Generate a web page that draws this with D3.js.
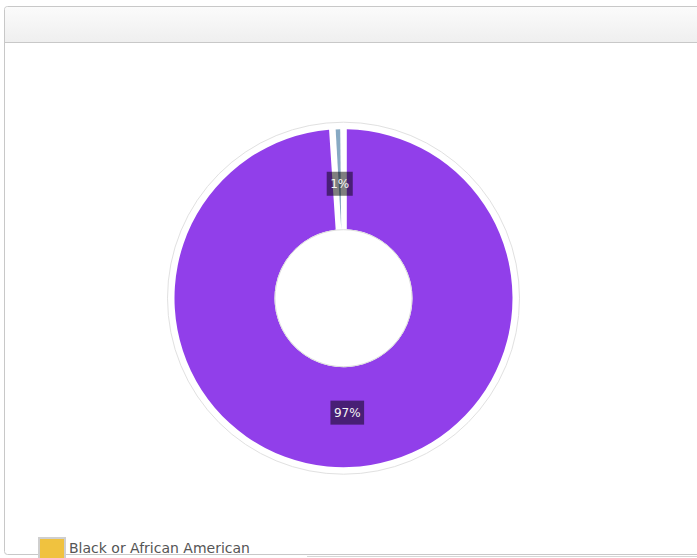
<!DOCTYPE html>
<html>
<head>
<meta charset="utf-8">
<script src="https://cdn.jsdelivr.net/npm/d3@7"></script>
<style>
  html, body { margin: 0; padding: 0; background: #fff; overflow: hidden; }
  svg { display: block; font-family: "DejaVu Sans", Verdana, sans-serif; }
</style>
</head>
<body>
<svg id="chart" width="697" height="558"></svg>
<script>
// ---- data ----
const categories = ["Black or African American", "White", "Asian"];
const values = [0, 98.95, 1.05];              // shares
const pctLabels = ["", "97%", "1%"];          // labels as printed on the slices
const colors = ["#f0c23f", "#913fea", "#87a9c3"];
const legendShown = ["Black or African American"];

const W = 697, H = 558;
const svg = d3.select("#chart");

// ---- panel frame ----
const defs = svg.append("defs");
const grad = defs.append("linearGradient").attr("id", "hdr").attr("x1", 0).attr("y1", 0).attr("x2", 0).attr("y2", 1);
grad.append("stop").attr("offset", "0%").attr("stop-color", "#fbfbfb");
grad.append("stop").attr("offset", "100%").attr("stop-color", "#efefef");

svg.append("line").attr("x1", 307).attr("x2", W).attr("y1", 556.5).attr("y2", 556.5)
  .attr("stroke", "#d6d6d6");
svg.append("rect").attr("x", 4.5).attr("y", 6.5).attr("width", 710).attr("height", 548)
  .attr("rx", 3).attr("fill", "#fff").attr("stroke", "#c8c8c8");
svg.append("path").attr("d", "M5,42 L5,10 Q5,7 8,7 L" + W + ",7 L" + W + ",42 Z").attr("fill", "url(#hdr)");
svg.append("line").attr("x1", 5).attr("x2", W).attr("y1", 42.5).attr("y2", 42.5)
  .attr("stroke", "#c8c8c8");

// ---- donut ----
const cx = 343.5, cy = 298.2;
const rOuter = 169, rInner = 69;
const g = svg.append("g").attr("transform", `translate(${cx},${cy})`);

g.append("circle").attr("r", 176).attr("fill", "none").attr("stroke", "#e1e1e1").attr("stroke-width", 1);

const data = categories.map((c, i) => ({ name: c, value: values[i], color: colors[i], label: pctLabels[i] }));
const pie = d3.pie().sort(null).value(d => d.value);
const arcs = pie(data);

const arc = d3.arc().innerRadius(rInner).outerRadius(rOuter).padAngle(0.066).padRadius(100);
const labelArc = d3.arc().innerRadius(114.5).outerRadius(114.5);

g.selectAll("path.slice").data(arcs.filter(a => a.data.value > 0)).join("path")
  .attr("class", "slice")
  .attr("d", arc)
  .attr("fill", d => d.data.color);

g.append("circle").attr("r", rInner - 0.5).attr("fill", "#fff").attr("stroke", "#dcdcdc").attr("stroke-width", 1);

// ---- labels ----
const lbl = g.selectAll("g.lbl").data(arcs.filter(a => a.data.label)).join("g")
  .attr("class", "lbl")
  .attr("transform", d => `translate(${labelArc.centroid(d)})`);
lbl.each(function(d) {
  const s = d3.select(this);
  const t = s.append("text").text(d.data.label)
    .attr("text-anchor", "middle").attr("dy", "0.36em")
    .attr("font-size", 12).attr("fill", "#f5f5f5");
  const w = t.node().getComputedTextLength();
  s.insert("rect", "text").attr("x", -w / 2 - 3.5).attr("y", -12).attr("width", w + 7).attr("height", 24)
    .attr("fill", "rgba(0,0,0,0.5)");
});

// ---- legend ----
const leg = svg.append("g").attr("transform", "translate(38,537)");
legendShown.forEach((name, i) => {
  const idx = categories.indexOf(name);
  const item = leg.append("g").attr("transform", `translate(0,${i * 26})`);
  item.append("rect").attr("x", 1).attr("y", 1).attr("width", 26).attr("height", 24)
    .attr("fill", colors[idx]).attr("stroke", "#cfcfcf").attr("stroke-width", 2);
  item.append("text").attr("x", 31).attr("y", 16).text(name)
    .attr("font-size", 14).attr("fill", "#555");
});
</script>
</body>
</html>
